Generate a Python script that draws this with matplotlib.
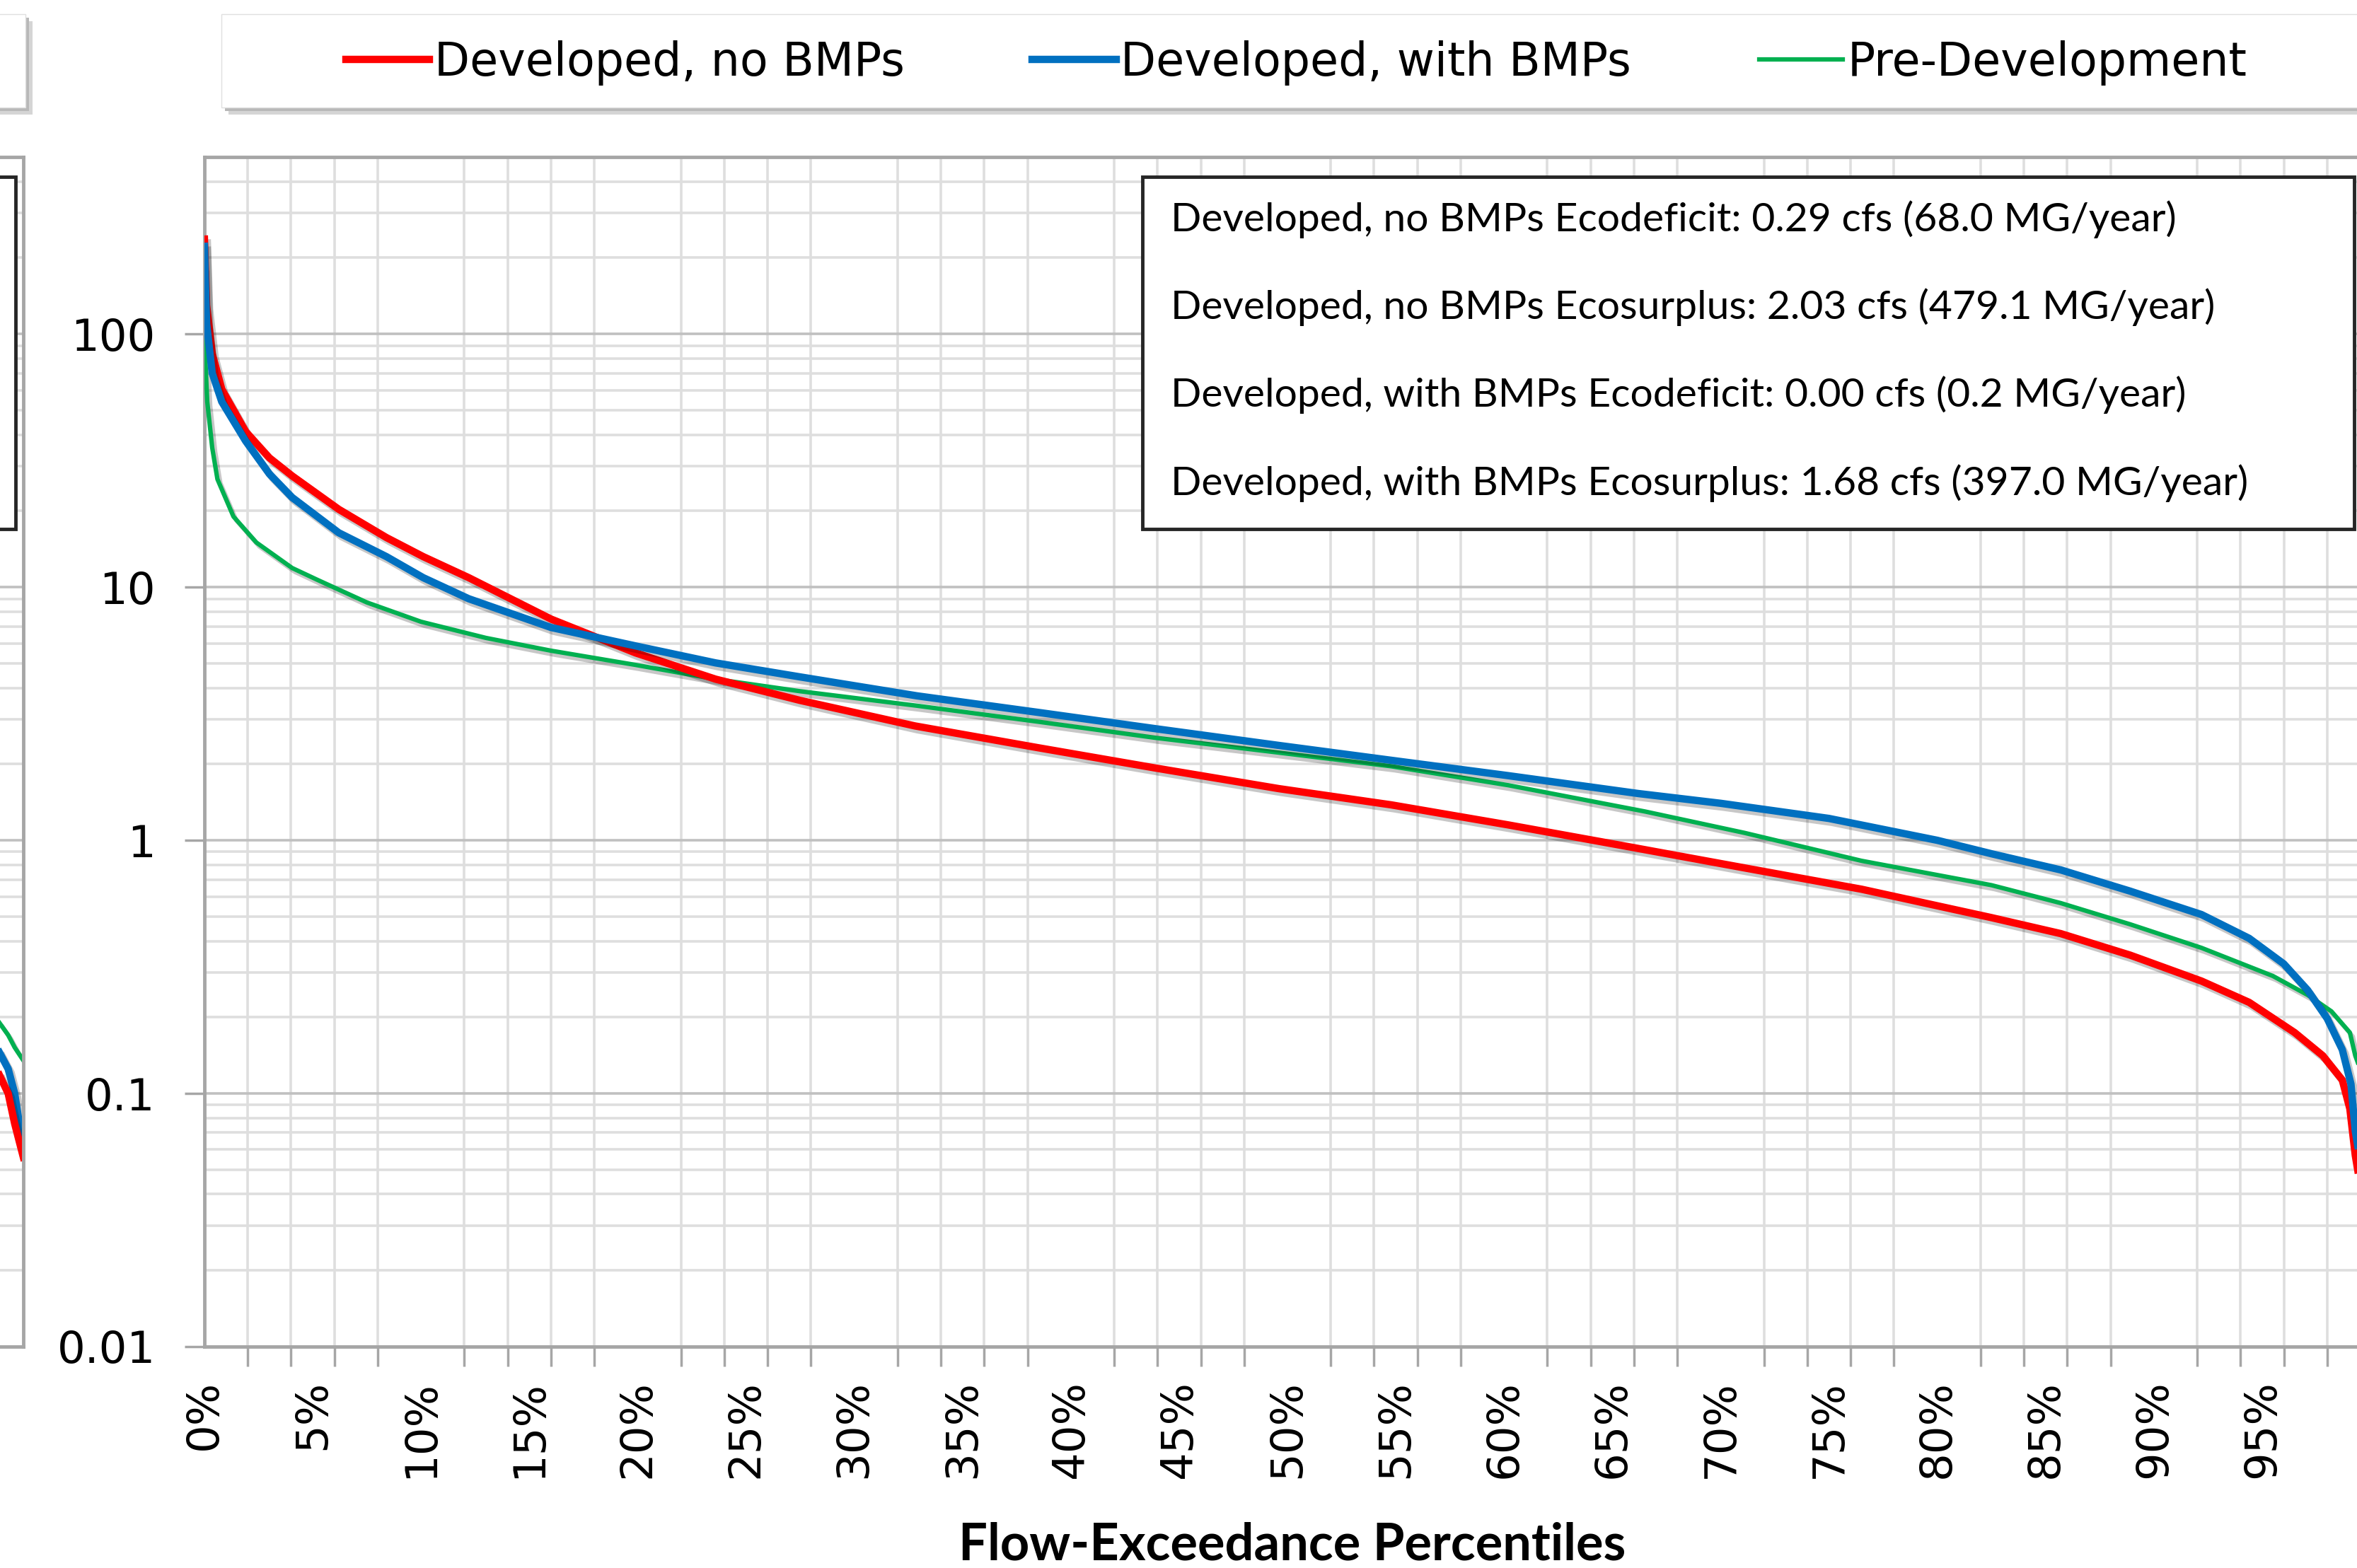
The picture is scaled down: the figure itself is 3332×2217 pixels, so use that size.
import numpy as np
import matplotlib
matplotlib.use("Agg")
import matplotlib.pyplot as plt
from matplotlib.patches import Rectangle
from matplotlib.lines import Line2D
import matplotlib.patheffects as pe
from matplotlib.ticker import FixedLocator, NullFormatter, FixedFormatter

# ---------------- data ----------------
series_names = ["Developed, no BMPs", "Developed, with BMPs", "Pre-Development"]
series_colors = ["#FF0000", "#0070C0", "#00B050"]

x_no_bmp = [0, 0.1, 0.36, 0.8, 1.9, 3.0, 4.05, 6.2, 8.4, 10.1, 12.2, 16.0, 19.9, 23.6,
            27.5, 32.8, 38.5, 43.9, 49.6, 54.8, 60.2, 66.0, 71.1, 76.5, 82.5, 85.7,
            88.9, 92.2, 94.4, 96.5, 97.8, 98.7, 99.05, 99.3, 99.6]
q_no_bmp = [237, 130, 83.5, 60.5, 41.2, 32.4, 27.5, 20.3, 15.7, 13.2, 10.9, 7.48, 5.5, 4.33,
            3.57, 2.83, 2.32, 1.93, 1.60, 1.38, 1.15, 0.935, 0.778, 0.641, 0.495, 0.428,
            0.352, 0.278, 0.229, 0.174, 0.141, 0.113, 0.087, 0.057, 0.04]

x_with_bmp = [0, 0.1, 0.36, 0.8, 1.9, 3.0, 4.05, 6.2, 8.4, 10.1, 12.2, 16.0, 19.9, 23.6,
              27.5, 32.9, 38.5, 43.9, 49.6, 54.8, 60.2, 66.2, 70.0, 75.0, 80.0, 82.5, 85.7,
              88.9, 92.2, 94.4, 96.0, 97.1, 98.0, 98.7, 99.1, 99.3, 99.6]
q_with_bmp = [222, 110, 70, 54, 37.8, 28, 22.6, 16.4, 13.2, 10.9, 9.0, 6.93, 5.86, 5.02,
              4.42, 3.72, 3.2, 2.76, 2.37, 2.07, 1.80, 1.53, 1.40, 1.22, 1.00, 0.885, 0.764,
              0.630, 0.509, 0.41, 0.325, 0.256, 0.198, 0.149, 0.109, 0.071, 0.05]

x_predev = [0, 0.03, 0.13, 0.36, 0.6, 1.34, 2.4, 4.05, 5.2, 7.5, 10.0, 13.0, 16.0, 19.9,
            23.6, 27.5, 32.9, 38.5, 43.9, 49.6, 54.8, 60.2, 66.5, 71.1, 76.5, 82.5,
            85.7, 88.9, 92.2, 95.5, 97.1, 98.2, 99.05, 99.3, 99.6]
q_predev = [181, 83, 54, 35.5, 26.7, 19, 15, 11.9, 10.7, 8.7, 7.3, 6.3, 5.61, 4.93,
            4.33, 3.88, 3.40, 2.94, 2.54, 2.22, 1.96, 1.65, 1.30, 1.07, 0.83, 0.665,
            0.565, 0.466, 0.376, 0.291, 0.245, 0.211, 0.174, 0.141, 0.12]

# tail of the neighbouring (cropped) chart on the left
x_left = [98.9, 99.3, 99.6, 100.0]
q_left_no_bmp = [0.118, 0.100, 0.076, 0.056]
q_left_with_bmp = [0.145, 0.125, 0.100, 0.060]
q_left_predev = [0.190, 0.170, 0.152, 0.135]

y_tick_vals = [0.01, 0.1, 1, 10, 100]
y_tick_labels = ["0.01", "0.1", "1", "10", "100"]
x_label_vals = list(range(0, 100, 5))
x_label_texts = [f"{v}%" for v in x_label_vals]

stats_lines = [
    "Developed, no BMPs Ecodeficit: 0.29 cfs (68.0 MG/year)",
    "Developed, no BMPs Ecosurplus: 2.03 cfs (479.1 MG/year)",
    "Developed, with BMPs Ecodeficit: 0.00 cfs (0.2 MG/year)",
    "Developed, with BMPs Ecosurplus: 1.68 cfs (397.0 MG/year)",
]
x_title = "Flow-Exceedance Percentiles"

# ---------------- figure ----------------
plt.rcParams["font.family"] = ["DejaVu Sans"]
W, H, DPI = 3332, 2217, 100
fig = plt.figure(figsize=(W / DPI, H / DPI), dpi=DPI)
fig.patch.set_facecolor("white")


def fx(px):
    return px / W


def fy(py):
    return 1 - py / H


AX_L, AX_R, AX_T, AX_B = 289, 3351, 222, 1904
SPINE = "#A6A6A6"
GRID_MAJ = "#C0C0C0"
GRID_MIN = "#DEDEDE"
minor_y = [m * 10.0 ** e for e in range(-2, 3) for m in range(2, 10) if m * 10.0 ** e <= 500]


def style_axes(a):
    a.set_yscale("log")
    a.set_ylim(0.01, 500)
    a.set_xlim(0, 100)
    a.yaxis.set_major_locator(FixedLocator(y_tick_vals))
    a.yaxis.set_minor_locator(FixedLocator(minor_y))
    a.yaxis.set_minor_formatter(NullFormatter())
    a.xaxis.set_minor_locator(FixedLocator(list(range(0, 101, 2))))
    a.xaxis.set_minor_formatter(NullFormatter())
    a.yaxis.grid(True, which="major", color=GRID_MAJ, lw=2.6)
    a.yaxis.grid(True, which="minor", color=GRID_MIN, lw=2.6)
    a.xaxis.grid(True, which="minor", color=GRID_MIN, lw=2.6)
    a.xaxis.grid(False, which="major")
    a.set_axisbelow(True)
    for s in a.spines.values():
        s.set_color(SPINE)
        s.set_linewidth(3.5)


shadow = [pe.SimpleLineShadow(offset=(3, -4), shadow_color="black", alpha=0.22), pe.Normal()]
LW_THICK, LW_THIN = 7.5, 4.5

# left (cropped) neighbouring chart
axL = fig.add_axes([fx(33 - (AX_R - AX_L)), fy(AX_B), (AX_R - AX_L) / W, (AX_B - AX_T) / H])
style_axes(axL)
axL.tick_params(labelleft=False, labelbottom=False, length=0, which="both")
axL.plot(x_left, q_left_predev, color=series_colors[2], lw=LW_THIN, path_effects=shadow)
axL.plot(x_left, q_left_with_bmp, color=series_colors[1], lw=LW_THICK, path_effects=shadow)
axL.plot(x_left, q_left_no_bmp, color=series_colors[0], lw=LW_THICK, path_effects=shadow)

# main chart
ax = fig.add_axes([fx(AX_L), fy(AX_B), (AX_R - AX_L) / W, (AX_B - AX_T) / H])
style_axes(ax)
ax.yaxis.set_major_formatter(FixedFormatter(y_tick_labels))
ax.xaxis.set_major_locator(FixedLocator(x_label_vals))
ax.xaxis.set_major_formatter(FixedFormatter(x_label_texts))
ax.tick_params(axis="y", which="major", length=20, width=2.5, color=SPINE, pad=30, labelsize=45)
ax.tick_params(axis="y", which="minor", length=0)
ax.tick_params(axis="x", which="minor", length=20, width=2.5, color=SPINE)
ax.tick_params(axis="x", which="major", length=0, pad=34, labelsize=45, labelrotation=90)

ax.plot(x_predev, q_predev, color=series_colors[2], lw=LW_THIN, path_effects=shadow, zorder=3)
ax.plot(x_no_bmp, q_no_bmp, color=series_colors[0], lw=LW_THICK, path_effects=shadow, zorder=4)
ax.plot(x_with_bmp, q_with_bmp, color=series_colors[1], lw=LW_THICK, path_effects=shadow, zorder=5)

ax.set_xlabel(x_title, fontsize=52, fontweight="bold", family=["Lato", "DejaVu Sans"])
ax.xaxis.label.set_va("center")
ax.xaxis.set_label_coords(fx(1827), fy(2185), transform=fig.transFigure)


# ---------------- boxes ----------------
def fig_rect(x0, y0, x1, y1, **kw):
    r = Rectangle((fx(x0), fy(y1)), fx(x1) - fx(x0), fy(y0) - fy(y1), transform=fig.transFigure, **kw)
    fig.add_artist(r)
    return r


# top-left partial legend box of neighbouring chart
fig_rect(-60 + 10, 20 + 10, 36 + 10, 152 + 10, facecolor="#D5D5D5", edgecolor="none", zorder=8)
fig_rect(-60 + 5, 20 + 5, 36 + 5, 152 + 5, facecolor="#B8B8B8", edgecolor="none", zorder=8)
fig_rect(-60, 20, 36, 152, facecolor="white", edgecolor="#E0E0E0", lw=1, zorder=9)

# main legend box
fig_rect(313 + 10, 20 + 10, 3400, 152 + 10, facecolor="#D5D5D5", edgecolor="none", zorder=8)
fig_rect(313 + 5, 20 + 5, 3400, 152 + 5, facecolor="#B8B8B8", edgecolor="none", zorder=8)
fig_rect(313, 20, 3400, 152, facecolor="white", edgecolor="#E0E0E0", lw=1, zorder=9)

handles = [Line2D([], [], color=series_colors[0], lw=LW_THICK),
           Line2D([], [], color=series_colors[1], lw=LW_THICK),
           Line2D([], [], color=series_colors[2], lw=LW_THIN)]
leg = fig.legend(handles, series_names, loc="center left", bbox_to_anchor=(fx(489), fy(89)),
                 ncol=3, frameon=False, fontsize=46.8, handlelength=1.82, handletextpad=0.1,
                 columnspacing=2.78, borderpad=0, borderaxespad=0)
leg.set_zorder(10)

# neighbouring chart's stats box (cropped)
fig_rect(-100, 250, 22, 748, facecolor="white", edgecolor="#262626", lw=3.5, zorder=9)

# stats box
fig_rect(1615, 250, 3328, 748, facecolor="white", edgecolor="#262626", lw=3.5, zorder=9)
for i, t in enumerate(stats_lines):
    fig.text(fx(1655), fy(310 + i * 124.3), t, fontsize=41, va="center", ha="left",
             family=["Lato", "DejaVu Sans"], zorder=10)

fig.savefig("out.png", dpi=DPI)
